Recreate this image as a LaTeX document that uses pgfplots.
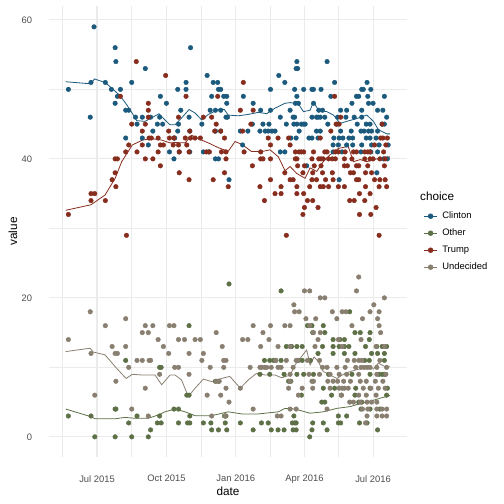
\documentclass[border=0pt]{standalone}
\usepackage{fontspec}
\setmainfont{Liberation Sans}
\usepackage{pgfplots}
\pgfplotsset{compat=1.18}
\definecolor{cClinton}{HTML}{1B5A7D}
\definecolor{cOther}{HTML}{5D7046}
\definecolor{cTrump}{HTML}{872D1E}
\definecolor{cUnd}{HTML}{897F70}
\definecolor{grey30}{HTML}{4D4D4D}
\definecolor{grid92}{HTML}{EBEBEB}
\begin{document}
\begin{tikzpicture}
\path (-49bp,-47bp) rectangle (455bp,457bp);
\begin{axis}[
 at={(0,0)}, anchor=south west,
 scale only axis, width=358bp, height=451bp,
 xmin=-63.7, xmax=411, ymin=-2.9, ymax=62,
 clip=false,
 axis line style={draw=none},
 major tick length=0pt, minor tick length=0pt,
 xtick={0,92,184,275,366}, xticklabels={Jul 2015,Oct 2015,Jan 2016,Apr 2016,Jul 2016},
 minor xtick={-46,46,138,229.5,320.5},
 ytick={0,20,40,60}, minor ytick={10,30,50},
 grid=both,
 major grid style={color=grid92, line width=1.1bp},
 minor grid style={color=grid92, line width=0.55bp},
 tick label style={font=\fontsize{9.4bp}{11bp}\selectfont, color=grey30, inner sep=0pt},
 xticklabel style={anchor=north, yshift=-18bp},
 yticklabel style={anchor=east, xshift=-16.7bp},
 /pgf/number format/assume math mode=true,
 xlabel={date}, ylabel={value},
 label style={font=\fontsize{11.75bp}{14bp}\selectfont},
 xlabel style={at={(axis description cs:0.5,-0.0754)}, anchor=center},
 ylabel style={at={(axis description cs:-0.1006,0.5)}, anchor=center},
 legend style={at={(axis description cs:1.0383,0.5576)}, anchor=north west, draw=none, fill=none,
   font=\fontsize{9.4bp}{11bp}\selectfont, nodes={inner sep=0pt, minimum height=17bp},
   column sep=5bp, row sep=0pt},
 legend cell align=left,
 legend image code/.code={\draw[#1] (0bp,0bp) -- (12.6bp,0bp); \fill[#1] (6.3bp,0bp) circle[radius=2.3bp];},
]
% ---------- points ----------
\addplot[only marks, mark=*, mark size=2.3bp, color=cClinton, mark options={draw=none}, forget plot] coordinates {
(-38,50)(-9,46)(-8,51)(-4,59)(11,51)(19,50)(24,56)(25,54)(24,48)(27,49)(31,50)(38,47)(42,47)(46,51)(51,46)(53,45)(60,46)(64,53)(71,46)(74,44)(80,45)(83,46)(84,49)(87,45)(92,48)(60,43)(68,42)(38,43)(102,43)(96,41)(109,41)(102,40)(107,50)(107,44)(108,45)
(124,56)(146,52)(241,52)(118,51)(154,51)(160,51)(249,51)(118,50)(161,50)(164,50)(230,50)(152,49)(168,49)(172,49)(194,49)(172,48)(207,48)(111,47)(150,47)(157,47)(164,47)(217,47)(230,47)(256,47)(122,46)(171,46)(173,46)(243,46)(260,46)(139,45)(206,45)(220,45)(228,45)(251,45)(123,44)(157,44)(164,44)(190,44)(200,44)(216,44)(223,44)(227,44)(232,44)(236,44)(103,43)(193,42)(123,41)(141,41)(148,41)(243,41)(249,41)(157,40)(161,40)(175,37)
(265,54)(305,54)(264,53)(266,53)(315,51)(358,51)
(262,50)(274,50)(285,50)(287,50)(297,50)(351,50)(353,50)(363,50)
(265,49)(310,49)(344,49)(347,49)(359,49)(381,49)
(263,48)(267,48)(287,48)(338,48)(360,48)(366,48)
(294,47)(299,47)(323,47)(331,47)(351,47)(372,47)(379,47)
(262,46)(285,46)(291,46)(293,46)(296,46)(302,46)(319,46)(330,46)(341,46)(351,46)(384,46)
(261,45)(265,45)(271,45)(274,45)(276,45)(306,45)(318,45)(345,45)(357,45)(362,45)(378,45)(381,45)
(268,44)(291,44)(296,44)(323,44)(337,44)(350,44)(354,44)(360,44)(364,44)(372,44)
(257,43)(264,43)(281,43)(285,43)(293,43)(314,43)(321,43)(326,43)(334,43)(339,43)(357,43)(362,43)(370,43)
(313,42)(320,42)(331,42)(339,42)(351,42)(364,42)(374,42)(386,42)
(313,41)(325,41)(350,41)(363,41)(372,41)
(380,40)(385,40)(278,39)(371,38)(321,37)
};
\addplot[only marks, mark=*, mark size=2.3bp, color=cOther, mark options={draw=none}, forget plot] coordinates {
(-38,3)(-8,3)(-3,0)(24,4)(25,4)(24,0)(38,11)(42,2)(46,0)(53,3)(68,0)(71,1)(83,10)(85,10)(83,3)(80,2)(85,2)(102,4)(108,4)(108,2)
(175,22)(244,21)(122,16)(222,11)(229,11)(234,11)(237,11)(244,11)(251,13)(257,13)(216,9)(229,9)(248,9)(254,8)(257,8)(157,8)(161,8)(119,6)(122,6)
(120,2)(123,2)(141,2)(151,2)(170,2)(190,2)(218,2)(227,2)(259,2)(123,3)(169,3)(171,3)
(152,1)(161,1)(172,1)(207,1)(231,1)(240,1)(248,1)(260,1)
(335,18)(279,16)(285,16)(300,16)(286,15)(302,15)(342,15)(349,15)(362,15)(313,14)(322,14)(328,14)(361,14)
(258,13)(265,13)(272,13)(299,13)(313,13)(321,13)(328,13)(334,13)(356,13)(371,13)(378,13)(384,13)
(293,12)(313,12)(328,12)(342,12)(364,12)(372,12)(381,12)
(267,11)(272,11)(283,11)(355,11)(361,11)(381,11)
(265,9)(274,9)(287,9)(307,9)(338,9)(362,9)(374,9)(378,9)(381,9)
(300,7)(315,7)(343,7)(362,7)(385,7)
(271,6)(311,6)(324,6)(342,6)(384,6)
(298,5)(302,5)(347,5)(351,5)(350,4)(362,4)(375,4)
(261,3)(320,3)(331,3)
(262,2)(264,2)(286,2)(300,2)(320,2)(323,2)(348,2)(358,2)
(264,1)(285,1)(305,1)(372,1)(282,0)
};
\addplot[only marks, mark=*, mark size=2.3bp, color=cTrump, mark options={draw=none}, forget plot] coordinates {
(-38,32)(-8,35)(-3,35)(-8,34)(11,34)(39,29)(52,54)(91,52)(31,49)(24,40)(27,40)(24,38)(20,37)(25,36)(38,41)(42,42)(53,41)(46,45)(64,45)(60,44)(68,48)(68,47)(68,46)(60,42)(69,43)(72,43)(81,43)(84,42)(88,42)(81,41)(64,40)(74,40)(84,39)(95,44)(96,43)(102,43)(101,42)(108,42)(108,46)(109,38)
(194,51)(118,49)(160,49)(190,47)(207,47)(141,46)(152,46)(158,45)(204,45)(123,44)(156,44)(164,44)(193,44)(117,43)(124,43)(130,43)(137,43)(169,43)(227,43)(240,43)(254,43)(119,42)(230,42)(256,42)
(109,41)(122,41)(145,41)(149,41)(165,41)(171,41)(195,41)(217,41)(171,40)(217,40)(220,40)(230,40)(206,39)(169,38)(249,38)(122,37)(154,37)(230,37)(256,37)(260,37)(174,36)(216,36)(244,36)(236,35)(244,35)(222,34)(251,29)
(315,49)(323,46)(317,45)(321,45)(378,45)(310,44)(296,43)(379,43)(385,43)(376,43)(368,42)(383,42)
(263,41)(268,41)(271,41)(274,41)(287,41)(302,41)(305,41)(316,41)(320,41)(329,41)(340,41)(344,41)(355,41)(359,41)(362,41)(380,41)
(263,40)(265,40)(285,40)(294,40)(297,40)(300,40)(307,40)(312,40)(316,40)(328,40)(338,40)(355,40)(362,40)(366,40)(375,40)(382,40)
(266,39)(275,39)(288,39)(297,39)(328,39)(332,39)(344,39)(347,39)(359,39)(381,39)
(273,38)(286,38)(299,38)(312,38)(336,38)(340,38)(356,38)(364,38)
(285,37)(291,37)(303,37)(313,37)(344,37)(347,37)(368,37)(375,37)(382,37)
(265,36)(282,36)(296,36)(300,36)(307,36)(320,36)(328,36)(356,36)(374,36)(384,36)
(265,35)(274,35)(348,35)(362,35)
(279,34)(286,34)(335,34)(341,34)(355,34)
(275,33)(293,33)(370,33)
(273,32)(348,32)(363,32)
(374,29)
};
\addplot[only marks, mark=*, mark size=2.3bp, color=cUnd, mark options={draw=none}, forget plot] coordinates {
(-38,14)(-9,18)(-8,12)(-3,6)(11,16)(20,13)(24,12)(27,12)(25,8)(38,17)(38,13)(42,10)(53,11)(60,11)(64,16)(74,16)(60,15)(68,15)(69,11)(71,11)(64,7)(81,14)(88,13)(95,12)(83,9)(96,16)(102,16)(108,14)(103,10)(108,10)(46,4)(68,3)
(207,16)(230,16)(249,16)(256,16)(158,15)(220,15)(116,14)(130,14)(137,14)(193,14)(200,14)(228,14)(166,13)(217,13)(240,13)(122,12)(141,12)
(139,11)(168,11)(171,11)(237,11)(251,11)
(150,10)(168,10)(203,10)(216,10)(218,10)(222,10)(225,10)(231,10)(240,10)(244,10)
(122,9)(158,8)(162,8)(256,8)(171,7)(190,7)(254,7)(146,6)(164,6)(175,5)(207,4)(152,3)(170,3)(239,3)(244,3)(261,19)(262,18)
(347,23)(275,21)(282,21)(344,21)(296,20)(302,20)(381,20)(367,19)
(268,18)(312,18)(325,18)(330,18)(362,18)(374,18)
(277,17)(290,17)(318,17)(352,17)(372,17)
(282,16)(338,16)(374,16)(287,15)(296,15)(376,15)(293,14)(320,14)(350,14)
(256,13)(289,13)(325,13)(370,13)(381,13)
(264,11)(266,11)(279,11)(295,11)(332,11)(341,11)(347,11)(351,11)(375,11)
(260,10)(299,10)(305,10)(318,10)(329,10)(343,10)(350,10)(354,10)(358,10)(362,10)(371,10)(384,10)
(256,9)(281,9)(295,9)(309,9)(321,9)(331,9)(347,9)(371,9)(383,9)
(285,8)(287,8)(306,8)(313,8)(319,8)(327,8)(336,8)(349,8)(357,8)(369,8)(379,8)
(272,7)(286,7)(309,7)(321,7)(325,7)(328,7)(333,7)(353,7)(363,7)(373,7)(382,7)
(267,6)(324,6)(347,6)(357,6)(370,6)
(335,5)(340,5)(349,5)(358,5)(364,5)(371,5)
(256,4)(264,4)(305,4)(352,4)(359,4)(371,4)(378,4)(384,4)
(358,3)(371,3)(378,3)(384,3)(356,2)
};
% ---------- lines ----------
\addplot[color=cClinton, line width=0.8bp, mark=none] coordinates {
(-41.6,51.1)(-8,50.8)(-3.5,51.5)(10.6,51.0)(20.3,50.1)(30.5,49.1)(39.3,47.8)(48.2,46.3)(52.6,45.5)(63.6,45.4)(72.5,45.9)(82.2,46.5)(90,45.6)(96.8,44.9)(103.4,44.9)(112.2,45.9)(122,47.1)(130,46.6)(138.8,45.6)(147.6,46.4)(161,47.1)(168.8,47.1)(174,46.3)(187.4,46.2)(200.6,46.4)(213.9,46.7)(225,46.5)(236,47.3)(249.3,48.0)(256,48.1)(267,47.9)(273.7,46.8)(282.5,47.0)(287,48.2)(293.6,47.0)(304.6,46.8)(313.5,46.3)(322.3,45.1)(331,45.4)(344.4,45.8)(357.7,46.3)(366.5,45.4)(373,44.2)(384,43.6)(388.6,43.6)
};
\addlegendentry{Clinton}
\addplot[color=cOther, line width=0.8bp, mark=none] coordinates {
(-41.6,4.0)(-8,2.9)(-2.7,2.6)(24,2.6)(37.1,2.8)(50.4,2.67)(68,2.67)(81.3,3.15)(90,3.6)(103.4,4.0)(116.7,3.6)(130,3.05)(152,3.05)(174,3.6)(191.8,3.3)(214,3.3)(231.6,3.5)(240.4,3.6)(249.3,4.1)(262.5,4.0)(282.5,3.4)(300,3.6)(318,4.1)(335.6,4.35)(349,4.8)(362,5.1)(375,5.55)(388.6,5.95)
};
\addlegendentry{Other}
\addplot[color=cTrump, line width=0.8bp, mark=none] coordinates {
(-41.6,32.6)(-8,33.4)(10.6,34.8)(24,37.2)(32.7,39.6)(46.8,42.0)(60.1,42.7)(72.5,42.9)(85.7,42.7)(96.8,42.3)(103.4,42.35)(116.7,42.3)(125.5,43.4)(138.8,42.7)(147.6,42.3)(161,41.6)(174,41.1)(183,42.5)(191.8,42.1)(205,41.05)(218.3,41.05)(229.4,41.3)(240.4,40.3)(249.3,38.3)(256,38.9)(264.8,37.9)(275.9,37.2)(282.5,38.7)(291.4,38.2)(300,39.6)(309,40.6)(320,41.5)(333,41.8)(340,39.6)(349,39.9)(357.7,39.6)(371,40.0)(388.6,40.3)
};
\addlegendentry{Trump}
\addplot[color=cUnd, line width=0.8bp, mark=none] coordinates {
(-41.6,12.27)(-9.3,12.75)(-4.9,12.2)(10.6,11.8)(24,10.1)(38.5,8.4)(46.8,9.0)(59.2,8.9)(76.9,8.9)(85.7,7.5)(96.8,8.9)(103.4,8.9)(112,8.2)(121,5.8)(130,7.0)(141,8.3)(152,7.95)(165,8.4)(176,8.7)(190,7.0)(200.6,8.2)(211.7,9.15)(222.7,8.9)(236,8.9)(244.8,8.5)(256,8.9)(262.6,10.35)(269.3,11.3)(278,12.5)(282.5,10.35)(287.8,11.5)(293.6,10.8)(300,9.4)(309,8.9)(318,8.4)(329,9.15)(342,9.6)(353,9.9)(366.5,9.77)(373,10.6)(382,10.1)(388.6,10.1)
};
\addlegendentry{Undecided}
\node[anchor=west, inner sep=0pt, font=\fontsize{11.75bp}{14bp}\selectfont] at (axis description cs:1.0363,0.5772) {choice};
\end{axis}
\end{tikzpicture}
\end{document}
